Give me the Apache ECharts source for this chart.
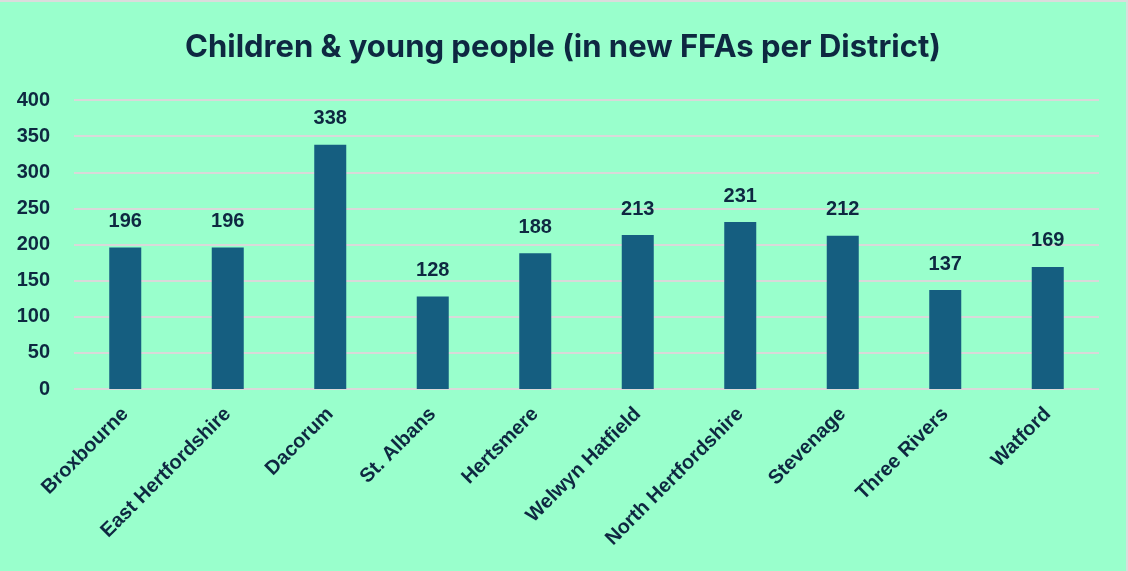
<!DOCTYPE html>
<html>
<head>
<meta charset="utf-8">
<script src="https://cdn.jsdelivr.net/npm/echarts@6/dist/echarts.min.js"></script>
<style>
  html, body { margin: 0; padding: 0; background: #99ffcc; }
  #chart { width: 1128px; height: 571px; box-sizing: border-box; border-top: 2px solid #dcdcdc; border-right: 2px solid #dcdcdc; }
</style>
</head>
<body>
<div id="chart"></div>
<script>
// 各区数据
const districts = ['Broxbourne', 'East Hertfordshire', 'Dacorum', 'St. Albans', 'Hertsmere',
  'Welwyn Hatfield', 'North Hertfordshire', 'Stevenage', 'Three Rivers', 'Watford']
const ffaValues = [196, 196, 338, 128, 188, 213, 231, 212, 137, 169]
const yTicks = [0, 50, 100, 150, 200, 250, 300, 350, 400]

const textColor = '#0e2841'

let chart = echarts.init(document.getElementById('chart'))
let option = {
  backgroundColor: '#99ffcc',
  title: {
    text: 'Children & young people (in new FFAs per District)',
    left: 'center',
    top: 25,
    textStyle: {
      fontFamily: 'Inter',
      fontWeight: 'bold',
      fontSize: 31,
      color: textColor
    }
  },
  grid: {
    left: 74,
    right: 27,
    top: 98,
    bottom: 182
  },
  xAxis: {
    type: 'category',
    data: districts,
    axisLine: { show: false },
    axisTick: { show: false },
    axisLabel: {
      interval: 0,
      rotate: 45,
      margin: 22,
      fontFamily: 'Liberation Sans',
      fontWeight: 'bold',
      fontSize: 20,
      color: textColor
    }
  },
  yAxis: {
    type: 'value',
    min: yTicks[0],
    max: yTicks[yTicks.length - 1],
    interval: 50,
    axisLine: { show: false },
    axisTick: { show: false },
    splitLine: {
      lineStyle: { color: '#d9d9d9', width: 2 }
    },
    axisLabel: {
      margin: 24,
      fontFamily: 'Liberation Sans',
      fontWeight: 'bold',
      fontSize: 20,
      color: textColor
    }
  },
  series: [{
    type: 'bar',
    data: ffaValues,
    barWidth: 32,
    itemStyle: { color: '#155e80' },
    label: {
      show: true,
      position: 'top',
      distance: 16,
      fontFamily: 'Liberation Sans',
      fontWeight: 'bold',
      fontSize: 20,
      color: textColor
    }
  }]
}
chart.setOption(option)
</script>
</body>
</html>
